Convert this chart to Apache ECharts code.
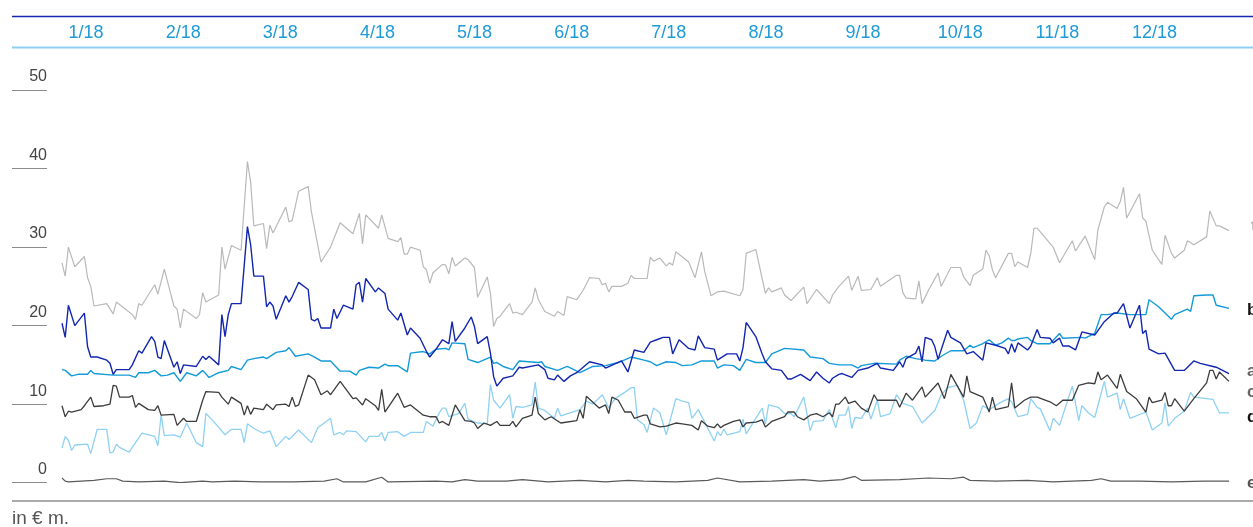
<!DOCTYPE html>
<html>
<head>
<meta charset="utf-8">
<script src="https://cdn.jsdelivr.net/npm/echarts@6/dist/echarts.min.js"></script>
<style>
  html, body { margin: 0; padding: 0; background: #fff; }
  #chart { width: 1253px; height: 527px; }
</style>
</head>
<body>
<div id="chart"></div>
<script>
// month labels on the header strip
const months = ['1/18', '2/18', '3/18', '4/18', '5/18', '6/18', '7/18', '8/18', '9/18', '10/18', '11/18', '12/18']
const yTicks = [0, 10, 20, 30, 40, 50]

// [day of year, value in € m.]
const totalSeries = [
  [8, 28.0], [9, 26.3], [10, 30.0], [12, 27.5], [15, 28.8], [16, 26.1], [17, 25.0], [18, 22.5], [22, 22.8], [24, 21.5],
  [25, 23.0], [30, 21.4], [31, 20.8], [32, 22.8], [33, 22.6], [37, 25.2], [38, 24.0], [40, 27.2], [43, 22.5], [44, 22.1],
  [45, 19.7], [46, 22.1], [50, 20.9], [51, 21.4], [52, 24.2], [53, 23.0], [57, 23.9], [58, 30.0], [59, 27.2], [61, 30.2],
  [64, 29.6], [66, 40.9], [67, 38.3], [68, 32.7], [71, 33.0], [72, 29.8], [73, 32.8], [74, 31.8], [78, 35.1], [79, 33.2],
  [80, 33.4], [82, 37.1], [85, 37.7], [86, 34.5], [89, 28.1], [92, 30.0], [95, 33.1], [99, 31.7], [101, 34.3], [102, 30.4],
  [103, 34.1], [107, 32.4], [108, 34.1], [110, 31.1], [113, 30.7], [114, 31.2], [115, 29.1], [116, 29.1], [117, 30.0], [120, 29.6],
  [121, 27.5], [122, 27.1], [123, 25.4], [124, 26.7], [127, 27.8], [128, 27.7], [129, 26.6], [130, 28.7], [131, 27.6], [134, 28.6],
  [135, 28.4], [137, 27.4], [138, 23.6], [141, 26.2], [142, 24.1], [143, 19.9], [144, 20.9], [145, 21.2], [148, 22.8], [149, 21.6],
  [150, 21.7], [152, 21.4], [155, 23.0], [156, 24.8], [157, 23.3], [159, 21.8], [162, 21.2], [163, 21.8], [165, 21.3], [166, 23.7],
  [169, 23.3], [171, 24.5], [173, 26.1], [176, 26.0], [177, 25.2], [178, 25.4], [179, 24.3], [180, 25.0], [183, 25.0], [185, 25.4],
  [186, 26.4], [187, 26.0], [191, 26.0], [192, 28.7], [193, 28.2], [195, 28.6], [197, 27.6], [198, 28.0], [199, 27.7], [200, 29.4],
  [204, 28.1], [206, 26.1], [208, 29.4], [209, 26.9], [211, 23.8], [213, 24.3], [215, 24.4], [220, 23.8], [221, 24.6], [222, 29.2],
  [225, 29.7], [228, 24.1], [229, 24.8], [230, 24.3], [233, 24.8], [234, 23.9], [236, 23.2], [240, 24.9], [241, 22.8], [244, 24.6],
  [248, 22.8], [249, 23.9], [251, 25.0], [254, 26.3], [255, 24.5], [257, 26.3], [258, 24.5], [261, 24.6], [263, 26.1], [264, 25.0],
  [269, 26.4], [270, 26.4], [271, 24.2], [272, 23.5], [275, 23.4], [276, 25.7], [277, 22.8], [279, 24.5], [282, 26.7], [283, 25.0],
  [286, 27.4], [289, 27.4], [290, 26.2], [292, 25.1], [293, 26.4], [296, 27.2], [297, 29.6], [298, 28.9], [299, 27.1], [300, 26.1],
  [304, 29.2], [305, 29.2], [306, 27.5], [307, 28.1], [310, 27.4], [311, 29.2], [312, 32.4], [313, 32.4], [318, 30.0], [320, 28.0],
  [324, 30.8], [325, 29.5], [328, 31.4], [331, 28.4], [332, 32.2], [334, 35.1], [335, 35.7], [338, 34.9], [339, 35.8], [340, 37.6],
  [341, 33.7], [345, 36.8], [346, 33.7], [347, 33.3], [349, 29.6], [352, 27.8], [353, 31.5], [355, 29.2], [356, 28.6], [359, 29.6],
  [360, 30.8], [362, 30.3], [366, 31.3], [367, 34.6], [369, 32.7], [370, 32.7], [373, 32.1]
]

const seriesA = [
  [8, 20.3], [9, 18.5], [10, 22.6], [12, 20.0], [15, 21.6], [16, 17.3], [17, 16.0], [19, 16.0], [22, 15.6], [23, 15.2],
  [24, 13.8], [25, 14.4], [29, 14.4], [30, 15.0], [32, 16.8], [33, 16.5], [36, 18.6], [37, 18.0], [38, 16.0], [39, 15.8],
  [40, 18.1], [43, 14.7], [44, 15.4], [45, 13.9], [46, 15.0], [50, 14.8], [52, 16.1], [53, 15.7], [54, 16.1], [57, 15.0],
  [58, 21.4], [59, 18.6], [60, 21.4], [61, 22.8], [64, 22.8], [66, 32.6], [67, 30.3], [68, 26.3], [71, 26.3], [72, 22.4],
  [73, 23.0], [74, 22.5], [75, 20.8], [78, 23.8], [79, 23.0], [80, 23.7], [82, 25.5], [85, 24.6], [86, 20.8], [87, 20.6],
  [88, 20.9], [89, 19.7], [92, 19.7], [93, 22.1], [94, 20.9], [96, 22.6], [99, 22.1], [100, 25.2], [101, 25.5], [102, 23.0],
  [103, 26.0], [106, 24.3], [107, 24.8], [109, 24.1], [110, 22.1], [113, 20.7], [114, 21.6], [116, 18.8], [117, 19.7], [120, 18.4],
  [122, 16.7], [123, 16.0], [125, 17.0], [127, 18.2], [129, 17.7], [130, 20.5], [131, 18.0], [134, 19.7], [136, 21.1], [137, 19.9],
  [138, 17.7], [141, 18.6], [142, 16.5], [143, 13.5], [144, 12.3], [146, 13.3], [149, 13.6], [151, 14.7], [152, 14.6], [157, 15.0],
  [159, 14.4], [160, 13.3], [162, 13.1], [163, 13.7], [165, 12.9], [167, 13.6], [169, 14.0], [173, 15.4], [177, 15.0], [178, 14.6],
  [183, 15.5], [185, 14.1], [187, 16.9], [190, 16.6], [192, 17.9], [194, 18.2], [196, 18.5], [198, 18.5], [199, 16.4], [201, 18.2],
  [204, 17.1], [206, 16.9], [207, 18.7], [209, 17.2], [212, 17.0], [213, 15.6], [216, 16.4], [219, 16.4], [220, 15.5], [221, 17.2],
  [222, 20.4], [225, 18.6], [227, 16.4], [228, 15.4], [230, 14.5], [233, 14.3], [235, 13.2], [236, 13.2], [239, 13.8], [242, 13.0],
  [244, 14.1], [246, 13.3], [248, 12.7], [249, 13.3], [251, 13.8], [252, 13.9], [255, 13.4], [257, 14.3], [260, 14.6], [263, 15.2],
  [264, 14.6], [268, 14.3], [270, 15.4], [271, 14.7], [272, 15.8], [275, 16.5], [276, 17.4], [277, 15.4], [278, 18.5], [280, 18.2],
  [281, 17.3], [282, 15.7], [285, 19.4], [286, 18.5], [289, 17.8], [291, 16.4], [293, 16.7], [296, 15.6], [297, 17.8], [300, 17.5],
  [303, 17.1], [304, 16.4], [305, 17.7], [306, 16.6], [307, 17.8], [310, 16.9], [311, 17.4], [313, 19.5], [314, 18.5], [317, 18.4],
  [318, 17.8], [320, 18.4], [321, 17.4], [323, 17.4], [325, 16.9], [327, 19.2], [331, 18.8], [334, 20.5], [337, 21.6], [338, 21.6],
  [340, 22.8], [342, 19.7], [345, 22.6], [346, 19.0], [347, 19.4], [348, 17.0], [351, 16.4], [353, 16.5], [356, 14.3], [359, 14.3],
  [362, 15.5], [364, 15.2], [368, 14.8], [369, 14.7], [373, 13.9]
]

const seriesB = [
  [8, 14.4], [9, 14.3], [11, 13.6], [13, 13.8], [16, 13.8], [17, 14.3], [18, 13.9], [24, 13.7], [29, 13.7], [31, 13.4],
  [32, 14.0], [35, 14.0], [37, 14.3], [39, 13.6], [41, 13.7], [43, 14.0], [45, 12.9], [47, 14.0], [50, 13.6], [52, 14.3],
  [54, 13.4], [57, 14.0], [60, 14.3], [61, 14.8], [64, 14.4], [66, 15.6], [68, 15.8], [71, 16.0], [72, 15.8], [75, 16.6],
  [78, 16.8], [79, 17.2], [81, 16.1], [85, 16.4], [87, 16.0], [89, 15.5], [92, 15.5], [95, 14.2], [98, 14.2], [100, 13.7],
  [101, 14.3], [104, 14.7], [107, 14.6], [109, 15.1], [110, 14.9], [113, 14.9], [116, 14.1], [117, 16.5], [121, 16.7], [123, 16.4],
  [125, 17.0], [128, 17.1], [129, 16.9], [130, 17.8], [134, 17.7], [135, 15.7], [138, 15.3], [142, 16.0], [143, 15.2], [144, 15.3],
  [146, 14.8], [149, 14.4], [151, 15.5], [157, 15.3], [158, 15.4], [159, 14.8], [163, 14.3], [166, 14.8], [170, 14.0], [174, 14.8],
  [178, 14.9], [182, 15.3], [186, 16.0], [190, 15.6], [192, 15.4], [194, 14.9], [197, 15.4], [200, 15.3], [202, 14.9], [205, 15.0],
  [208, 15.5], [212, 15.5], [213, 14.6], [215, 15.0], [218, 14.9], [220, 14.3], [222, 15.7], [225, 15.3], [228, 15.3], [230, 16.4],
  [234, 17.1], [240, 16.9], [242, 16.0], [246, 15.8], [248, 15.2], [251, 15.0], [255, 15.0], [257, 14.6], [258, 14.9], [262, 15.2],
  [269, 15.1], [270, 15.6], [272, 16.1], [275, 15.8], [278, 15.6], [281, 15.5], [283, 16.1], [286, 16.8], [290, 16.8], [292, 17.5],
  [293, 17.2], [296, 17.7], [298, 18.2], [300, 17.5], [302, 17.8], [304, 18.4], [305, 18.1], [306, 18.1], [307, 18.3], [310, 18.5],
  [311, 18.1], [313, 17.7], [317, 17.7], [320, 19.0], [321, 18.4], [327, 18.5], [328, 18.4], [331, 19.0], [333, 21.4], [335, 21.4],
  [338, 21.6], [342, 21.4], [347, 21.4], [348, 23.3], [351, 22.4], [355, 20.8], [356, 21.4], [360, 22.1], [361, 21.8], [362, 23.8],
  [366, 23.9], [368, 23.9], [369, 22.6], [373, 22.2]
]

const seriesC = [
  [8, 9.8], [9, 8.4], [10, 9.1], [11, 9.0], [14, 9.3], [15, 9.8], [17, 10.9], [18, 9.7], [21, 9.8], [23, 10.0],
  [24, 12.4], [25, 12.3], [26, 10.9], [29, 10.9], [30, 11.1], [31, 9.6], [32, 10.1], [35, 9.3], [37, 9.2], [38, 9.8],
  [39, 8.6], [43, 8.7], [44, 7.3], [46, 8.2], [47, 7.8], [50, 7.8], [52, 10.5], [53, 11.6], [57, 11.5], [58, 10.9],
  [60, 10.0], [61, 10.9], [64, 10.1], [65, 8.6], [66, 9.8], [67, 8.7], [68, 9.5], [71, 9.3], [72, 10.0], [74, 9.3],
  [75, 9.9], [78, 10.0], [79, 9.7], [80, 10.9], [81, 9.7], [82, 9.9], [85, 13.7], [87, 13.1], [89, 11.2], [91, 11.7],
  [92, 11.2], [95, 12.9], [99, 10.7], [100, 10.8], [102, 9.9], [103, 10.7], [106, 9.8], [107, 9.2], [108, 11.9], [109, 9.0],
  [113, 11.4], [115, 9.6], [117, 9.9], [121, 8.6], [123, 8.4], [125, 8.4], [126, 7.6], [127, 7.8], [129, 7.3], [131, 9.9],
  [134, 7.9], [136, 7.8], [137, 7.6], [138, 6.9], [140, 7.6], [142, 7.3], [144, 7.8], [145, 7.3], [148, 7.3], [149, 7.8],
  [150, 7.1], [152, 8.2], [155, 8.6], [156, 10.9], [157, 8.8], [159, 8.0], [161, 8.4], [164, 7.6], [169, 7.9], [170, 9.3],
  [171, 8.2], [172, 11.0], [176, 9.5], [178, 9.9], [179, 8.8], [180, 10.9], [182, 10.5], [184, 9.0], [186, 9.0], [187, 8.2],
  [190, 8.6], [191, 8.6], [192, 7.5], [195, 7.1], [197, 7.2], [200, 7.6], [202, 7.5], [205, 7.3], [207, 6.7], [208, 7.9],
  [210, 7.2], [212, 7.0], [213, 7.5], [214, 7.0], [215, 7.3], [218, 7.8], [220, 8.0], [221, 7.1], [222, 7.6], [225, 7.7],
  [227, 8.0], [228, 7.1], [230, 7.8], [234, 8.4], [235, 9.0], [237, 9.0], [238, 8.4], [240, 8.0], [242, 8.6], [244, 8.8],
  [246, 8.4], [248, 8.9], [249, 8.4], [250, 10.0], [251, 10.0], [253, 10.9], [254, 10.1], [256, 10.4], [258, 9.5], [260, 9.0],
  [262, 11.2], [263, 10.5], [269, 10.5], [270, 9.6], [272, 11.4], [274, 10.5], [277, 12.2], [278, 10.9], [282, 12.7], [284, 10.7],
  [286, 13.8], [290, 10.9], [291, 13.6], [292, 11.6], [296, 10.9], [298, 9.0], [299, 10.9], [300, 9.3], [304, 9.7], [305, 12.7],
  [306, 9.5], [309, 10.5], [311, 10.9], [313, 10.9], [317, 10.3], [319, 9.8], [321, 10.5], [324, 10.5], [326, 12.4], [329, 12.7],
  [331, 12.6], [332, 14.1], [333, 13.1], [335, 13.7], [338, 12.0], [339, 13.8], [341, 11.6], [344, 10.7], [347, 9.0], [348, 10.9],
  [349, 10.2], [352, 10.5], [353, 11.5], [354, 9.8], [355, 9.8], [356, 10.7], [359, 9.1], [362, 10.7], [366, 12.7], [367, 14.3],
  [368, 14.3], [369, 13.2], [370, 14.1], [373, 12.9]
]

const seriesD = [
  [8, 4.4], [9, 5.9], [10, 5.4], [11, 4.1], [12, 4.8], [16, 4.9], [17, 3.7], [19, 6.8], [22, 6.8], [23, 3.8],
  [24, 3.9], [25, 4.9], [26, 4.5], [29, 3.9], [33, 6.3], [37, 5.9], [38, 4.7], [39, 8.6], [40, 6.0], [43, 6.1],
  [45, 5.8], [47, 7.6], [50, 5.1], [52, 4.6], [53, 8.8], [55, 8.0], [59, 6.1], [61, 6.8], [64, 6.8], [65, 5.1],
  [66, 7.5], [68, 6.9], [71, 6.3], [73, 6.6], [75, 4.6], [78, 5.9], [79, 5.5], [82, 6.7], [86, 5.1], [88, 7.0],
  [92, 8.2], [93, 6.1], [95, 6.4], [96, 6.1], [97, 6.6], [100, 6.5], [103, 5.2], [104, 5.9], [107, 5.9], [108, 6.4],
  [109, 5.3], [110, 6.4], [113, 6.5], [115, 5.9], [117, 6.4], [121, 6.4], [122, 7.8], [124, 7.2], [126, 8.9], [127, 9.5],
  [128, 9.5], [129, 8.4], [132, 8.8], [134, 10.1], [135, 8.1], [138, 7.6], [141, 7.5], [142, 12.5], [143, 10.5], [145, 9.5],
  [148, 11.2], [149, 8.2], [150, 9.7], [152, 9.6], [155, 9.9], [156, 12.8], [157, 9.5], [159, 9.2], [162, 8.2], [163, 9.5],
  [164, 8.5], [170, 9.3], [172, 10.4], [174, 10.0], [177, 11.2], [179, 9.5], [181, 10.7], [184, 11.5], [186, 12.1], [187, 12.1],
  [188, 8.0], [190, 7.4], [191, 6.4], [193, 9.5], [195, 8.9], [197, 6.1], [200, 10.7], [202, 10.4], [204, 10.2], [205, 8.2],
  [207, 9.3], [212, 5.3], [213, 6.5], [214, 6.0], [215, 6.8], [216, 6.1], [220, 6.5], [221, 8.1], [222, 6.2], [225, 8.2],
  [227, 9.5], [228, 7.5], [229, 9.9], [232, 9.6], [234, 8.8], [236, 8.8], [237, 8.4], [240, 10.9], [242, 6.6], [243, 7.8],
  [246, 7.9], [248, 9.3], [250, 7.0], [251, 8.6], [253, 8.6], [254, 9.7], [255, 6.9], [256, 8.3], [258, 8.2], [260, 9.5],
  [261, 8.1], [263, 10.5], [264, 8.4], [267, 8.8], [269, 11.2], [271, 10.1], [274, 9.7], [277, 7.6], [281, 9.2], [283, 11.2],
  [285, 12.1], [288, 12.4], [290, 10.5], [292, 6.9], [294, 7.6], [296, 9.8], [298, 9.3], [301, 10.1], [304, 10.7], [305, 10.3],
  [307, 8.4], [310, 8.7], [311, 10.7], [313, 9.6], [314, 9.4], [317, 6.6], [318, 8.2], [320, 7.3], [324, 12.3], [326, 7.9],
  [327, 9.8], [329, 8.9], [331, 8.3], [334, 12.9], [335, 10.9], [338, 11.4], [339, 9.3], [340, 10.7], [342, 8.2], [347, 9.0],
  [349, 6.7], [352, 7.6], [353, 10.2], [354, 7.2], [356, 8.2], [359, 9.1], [361, 11.5], [362, 10.9], [368, 10.6], [370, 8.9],
  [373, 8.9]
]

const seriesE = [
  [8, 0.6], [9, 0.2], [10, 0.1], [14, 0.2], [18, 0.3], [22, 0.5], [25, 0.5], [27, 0.2], [32, 0.1], [40, 0.2],
  [45, 0.0], [52, 0.2], [55, 0.1], [62, 0.2], [70, 0.1], [80, 0.1], [90, 0.2], [94, 0.5], [96, 0.1], [103, 0.1],
  [108, 0.7], [110, 0.1], [125, 0.2], [130, 0.1], [134, 0.4], [138, 0.2], [147, 0.2], [152, 0.4], [160, 0.1], [170, 0.3],
  [178, 0.1], [185, 0.3], [190, 0.2], [200, 0.1], [210, 0.3], [213, 0.6], [220, 0.1], [230, 0.2], [240, 0.4], [245, 0.2],
  [252, 0.4], [256, 0.8], [258, 0.3], [270, 0.4], [279, 0.6], [286, 0.5], [290, 0.7], [292, 0.3], [300, 0.2], [310, 0.3],
  [318, 0.1], [330, 0.3], [333, 0.5], [336, 0.2], [345, 0.2], [355, 0.1], [365, 0.2], [373, 0.2]
]

const FONT = '"Liberation Sans", Arial, sans-serif'

function lineSeries(name, data, color, width, labelColor, offset) {
  return {
    name,
    type: 'line',
    xAxisIndex: 0,
    yAxisIndex: 0,
    data,
    symbol: 'none',
    lineStyle: { color, width },
    emphasis: { disabled: true },
    endLabel: {
      show: true,
      formatter: '{a}',
      distance: 18,
      offset,
      color: labelColor,
      fontFamily: FONT,
      fontSize: 17,
      fontWeight: 'bold'
    }
  }
}

const chart = echarts.init(document.getElementById('chart'))

chart.setOption({
  animation: false,
  backgroundColor: '#fff',
  textStyle: { fontFamily: FONT },
  grid: [
    { left: 62, right: 24, top: 90, bottom: 44.3 },
    { left: 37.5, right: 50, top: 32.5, height: 1 }
  ],
  xAxis: [
    {
      type: 'value',
      gridIndex: 0,
      min: 8,
      max: 373,
      show: false
    },
    {
      type: 'category',
      gridIndex: 1,
      data: months,
      boundaryGap: true,
      axisLine: { show: false },
      axisTick: { show: false },
      splitLine: { show: false },
      axisLabel: {
        margin: 0,
        verticalAlign: 'middle',
        color: '#1e9bd7',
        fontSize: 18,
        fontFamily: FONT
      }
    }
  ],
  yAxis: [
    {
      type: 'value',
      gridIndex: 0,
      min: 0,
      max: 50,
      interval: 10,
      offset: 15,
      axisLine: { show: false },
      axisTick: { show: true, length: 35, lineStyle: { color: '#8c8c8c', width: 1 } },
      splitLine: { show: false },
      axisLabel: {
        margin: 0,
        verticalAlign: 'bottom',
        padding: [0, 0, 5, 0],
        color: '#444',
        fontSize: 16,
        fontFamily: FONT,
        formatter: v => (yTicks.includes(v) ? String(v) : '')
      }
    },
    { type: 'value', gridIndex: 1, show: false }
  ],
  graphic: [
    { type: 'line', shape: { x1: 12, y1: 16.5, x2: 1253, y2: 16.5 }, style: { stroke: '#1428b4', lineWidth: 1.5 }, silent: true },
    { type: 'line', shape: { x1: 12, y1: 47.5, x2: 1253, y2: 47.5 }, style: { stroke: '#8ecff0', lineWidth: 2 }, silent: true },
    { type: 'line', shape: { x1: 12, y1: 501, x2: 1253, y2: 501 }, style: { stroke: '#aaaaaa', lineWidth: 2 }, silent: true },
    {
      type: 'text',
      left: 12,
      top: 509,
      style: { text: 'in € m.', fill: '#555', font: '19px ' + FONT },
      silent: true
    }
  ],
  series: [
    lineSeries('t', totalSeries, '#b9b9b9', 1.2, '#aaaaaa', [4, -4]),
    lineSeries('e', seriesE, '#5a5a5a', 1.2, '#555555', [0, 2]),
    lineSeries('d', seriesD, '#8fd1f2', 1.3, '#111111', [0, 5]),
    lineSeries('c', seriesC, '#3c3c3c', 1.3, '#666666', [0, 11]),
    lineSeries('b', seriesB, '#139ad9', 1.4, '#111111', [0, 2]),
    lineSeries('a', seriesA, '#1226b0', 1.4, '#666666', [0, -2])
  ]
})
</script>
</body>
</html>
